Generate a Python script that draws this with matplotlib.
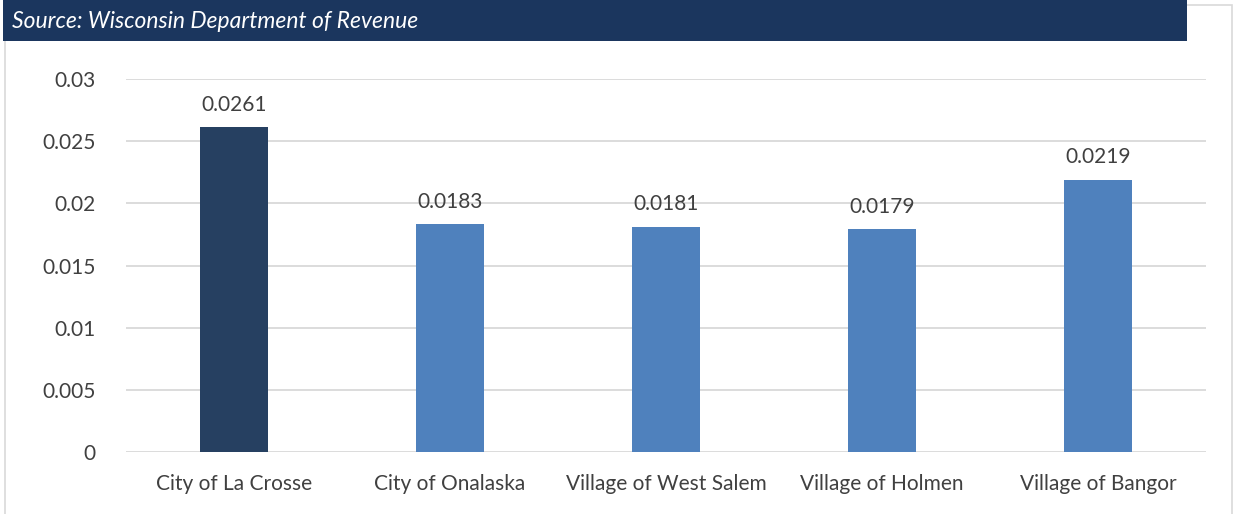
import matplotlib
matplotlib.use("Agg")
import matplotlib.pyplot as plt
from matplotlib.patches import Rectangle

categories = ["City of La Crosse", "City of Onalaska", "Village of West Salem",
              "Village of Holmen", "Village of Bangor"]
values = [0.0261, 0.0183, 0.0181, 0.0179, 0.0219]
value_labels = ["0.0261", "0.0183", "0.0181", "0.0179", "0.0219"]
yticks = [0, 0.005, 0.01, 0.015, 0.02, 0.025, 0.03]
ytick_labels = ["0", "0.005", "0.01", "0.015", "0.02", "0.025", "0.03"]
subtitle = "Source: Wisconsin Department of Revenue"

bar_colors = ["#264061", "#4F81BD", "#4F81BD", "#4F81BD", "#4F81BD"]

W, H = 1235, 514
fig = plt.figure(figsize=(W / 100, H / 100), dpi=100)
fig.patch.set_facecolor("white")

# outer light border
fig.patches.append(Rectangle((5 / W, -0.01), (1232 - 5) / W, (H - 5) / H + 0.01,
                             transform=fig.transFigure, fill=False,
                             edgecolor="#D9D9D9", linewidth=1.2))
# header band
fig.patches.append(Rectangle((3 / W, 1 - 41 / H), (1187 - 3) / W, 41 / H + 0.01,
                             transform=fig.transFigure, facecolor="#1B365E",
                             edgecolor="none"))
fig.text(12 / W, 1 - 21 / H, subtitle, color="white", fontsize=16.5,
         fontstyle="italic", family="Lato", va="center", ha="left")

ax = fig.add_axes([126 / W, 1 - 452 / H, (1206 - 126) / W, (452 - 79) / H])
x = list(range(len(categories)))
ax.bar(x, values, width=0.315, color=bar_colors, zorder=3)
ax.set_xlim(-0.5, len(categories) - 0.5)
ax.set_ylim(0, 0.03)
ax.set_yticks(yticks)
ax.set_yticklabels(ytick_labels)
ax.set_xticks(x)
ax.set_xticklabels(categories)
ax.grid(axis="y", color="#D9D9D9", linewidth=1.3, zorder=0)
ax.tick_params(axis="both", length=0, labelsize=15, labelcolor="#404040")
ax.tick_params(axis="y", pad=22)
ax.tick_params(axis="x", pad=16)
for lab in ax.get_xticklabels() + ax.get_yticklabels():
    lab.set_family("Lato")
for s in ax.spines.values():
    s.set_visible(False)
ax.set_facecolor("none")

for xi, v, lbl in zip(x, values, value_labels):
    ax.annotate(lbl, (xi, v), xytext=(0, 9), textcoords="offset points",
                ha="center", va="bottom", fontsize=15, color="#404040",
                family="Lato")

fig.savefig("out.png", dpi=100)
